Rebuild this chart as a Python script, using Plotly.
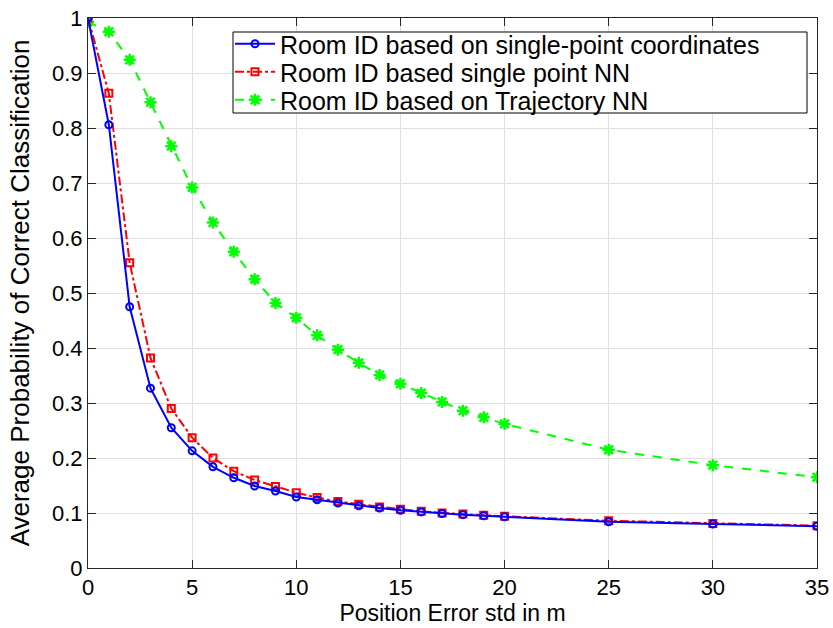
import plotly.graph_objects as go

x_vals = [0, 1, 2, 3, 4, 5, 6, 7, 8, 9, 10, 11, 12, 13, 14, 15, 16, 17, 18, 19, 20, 25, 30, 35]
blue_coords = [1.0, 0.806, 0.475, 0.327, 0.255, 0.213, 0.184, 0.164, 0.149, 0.140, 0.129, 0.124,
               0.118, 0.113, 0.109, 0.105, 0.102, 0.099, 0.097, 0.095, 0.093, 0.084, 0.080, 0.076]
red_single_nn = [1.0, 0.863, 0.555, 0.382, 0.290, 0.237, 0.200, 0.176, 0.160, 0.148, 0.137, 0.128,
                 0.121, 0.116, 0.111, 0.107, 0.103, 0.100, 0.098, 0.096, 0.094, 0.086, 0.081, 0.077]
green_traj_nn = [0.993, 0.975, 0.924, 0.847, 0.767, 0.692, 0.628, 0.575, 0.525, 0.482, 0.455, 0.423,
                 0.397, 0.373, 0.351, 0.335, 0.318, 0.302, 0.286, 0.274, 0.262, 0.215, 0.187, 0.165]
names = ["Room ID based on single-point coordinates",
         "Room ID based single point NN",
         "Room ID based on Trajectory NN"]
x_ticks = [0, 5, 10, 15, 20, 25, 30, 35]
y_ticks = [0, 0.1, 0.2, 0.3, 0.4, 0.5, 0.6, 0.7, 0.8, 0.9, 1]
y_tick_labels = ["0", "0.1", "0.2", "0.3", "0.4", "0.5", "0.6", "0.7", "0.8", "0.9", "1"]

FONT = "Liberation Sans, Arial, sans-serif"

fig = go.Figure()
fig.add_trace(go.Scatter(
    x=x_vals, y=green_traj_nn, name=names[2], mode="lines+markers", legend="legend3",
    line=dict(color="#00ff00", width=2, dash="dash"),
    marker=dict(symbol="asterisk-open", size=10, color="#00ff00", line=dict(color="#00ff00", width=2.5)),
))
fig.add_trace(go.Scatter(
    x=x_vals, y=red_single_nn, name=names[1], mode="lines+markers", legend="legend2",
    line=dict(color="#ff0000", width=2, dash="dashdot"),
    marker=dict(symbol="square-open", size=7, color="#ff0000", line=dict(color="#ff0000", width=2)),
))
fig.add_trace(go.Scatter(
    x=x_vals, y=blue_coords, name=names[0], mode="lines+markers", legend="legend",
    line=dict(color="#0000ff", width=2),
    marker=dict(symbol="circle-open", size=7, color="#0000ff", line=dict(color="#0000ff", width=2)),
))

axis_common = dict(
    showgrid=True, gridcolor="#e0e0e0", gridwidth=1,
    showline=True, linecolor="#262626", linewidth=1, mirror="ticks",
    ticks="inside", ticklen=8, tickcolor="#262626",
    tickfont=dict(family=FONT, size=22, color="#000000"),
    zeroline=False, automargin=False,
)

# plot-area pixel geometry helpers (for legend placement only)
L, R, T, B = 88, 16, 18, 60
PW, PH = 833 - L - R, 628 - T - B
def px_x(p):
    return (p - L) / PW
def px_y(p):
    return (628 - B - p) / PH

leg_common = dict(
    xanchor="left", yanchor="middle", bgcolor="rgba(0,0,0,0)", borderwidth=0,
    font=dict(family=FONT, size=25, color="#000000"), itemwidth=40,
)

fig.update_layout(
    width=833, height=628,
    margin=dict(l=L, r=R, t=T, b=B),
    paper_bgcolor="white", plot_bgcolor="white",
    font=dict(family=FONT, color="#000000"),
    xaxis=dict(range=[0, 35], tickmode="array", tickvals=x_ticks,
               title=dict(text="Position Error std in m", font=dict(family=FONT, size=23), standoff=0),
               **axis_common),
    yaxis=dict(range=[0, 1], tickmode="array", tickvals=y_ticks, ticktext=y_tick_labels,
               title=dict(text="Average Probability of Correct Classification", font=dict(family=FONT, size=26), standoff=14),
               **axis_common),
    legend=dict(x=px_x(230), y=px_y(44), **leg_common),
    legend2=dict(x=px_x(230), y=px_y(72), **leg_common),
    legend3=dict(x=px_x(230), y=px_y(100), **leg_common),
    shapes=[dict(type="rect", xref="paper", yref="paper",
                 x0=px_x(233), x1=px_x(807), y0=px_y(113), y1=px_y(32),
                 line=dict(color="#000000", width=1), fillcolor="white", layer="above")],
    showlegend=True,
)

fig.write_html("out.html")
